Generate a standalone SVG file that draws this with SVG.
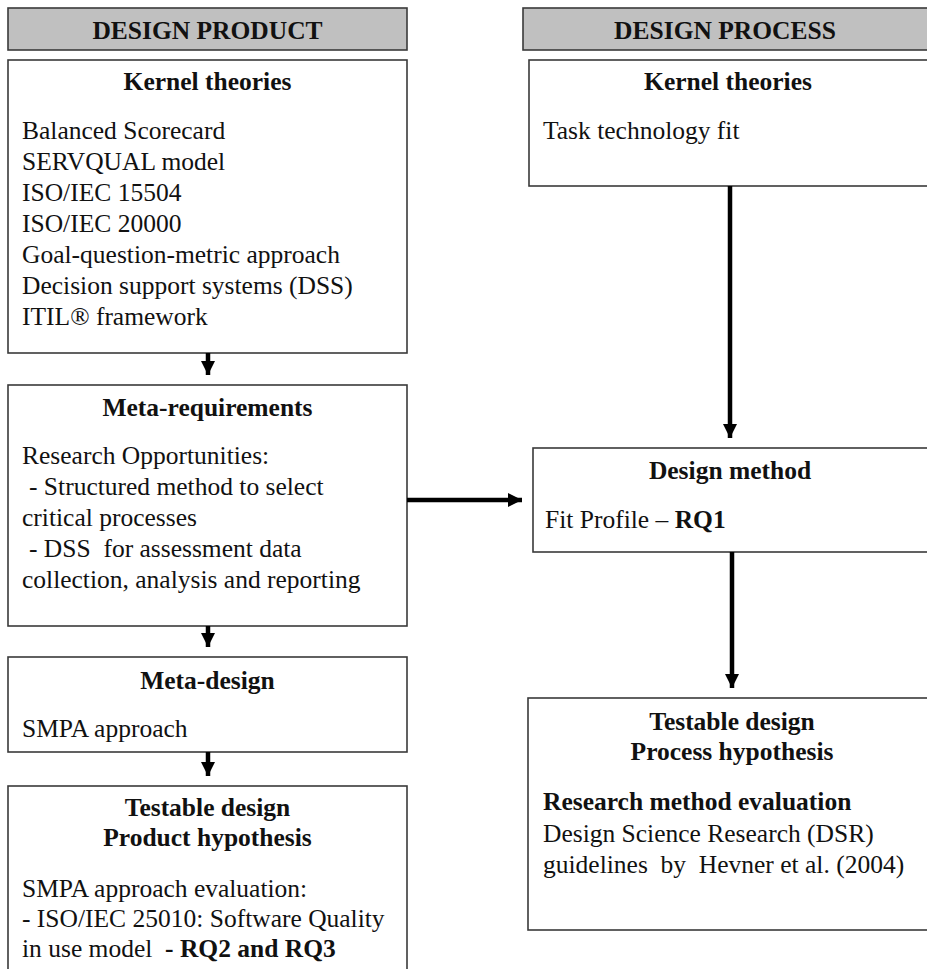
<svg xmlns="http://www.w3.org/2000/svg" width="927" height="969" viewBox="0 0 927 969" font-family="Liberation Serif" font-size="25">
<style>
.box{fill:#ffffff;stroke:#3a3a3a;stroke-width:1.6}
.hdr{fill:#c0c0c0;stroke:#3a3a3a;stroke-width:1.6}
text{font-family:'Liberation Serif','Times New Roman',serif;font-size:25.5px;fill:#111}
.b{font-weight:bold}
.c{text-anchor:middle}
.conn{stroke:#000;stroke-width:4.5;fill:none}
</style>
<defs>
<marker id="ah" markerUnits="userSpaceOnUse" markerWidth="14" markerHeight="14" refX="14" refY="7" orient="auto">
<path d="M0,0 L14,7 L0,14 z" fill="#000"/>
</marker>
</defs>
<rect width="927" height="969" fill="#ffffff"/>
<g id="hdr-product">
<rect class="hdr" x="8" y="8" width="399" height="42"/>
<text class="b c" x="207.5" y="39">DESIGN PRODUCT</text>
</g>
<g id="hdr-process">
<rect class="hdr" x="523" y="8" width="420" height="42"/>
<text class="b c" x="725" y="39">DESIGN PROCESS</text>
</g>
<g id="kernel-product">
<rect class="box" x="8" y="60" width="399" height="293"/>
<text class="b c" x="207.5" y="90">Kernel theories</text>
<text x="22" y="139">Balanced Scorecard</text>
<text x="22" y="170">SERVQUAL model</text>
<text x="22" y="201">ISO/IEC 15504</text>
<text x="22" y="232">ISO/IEC 20000</text>
<text x="22" y="263">Goal-question-metric approach</text>
<text x="22" y="294">Decision support systems (DSS)</text>
<text x="22" y="325">ITIL® framework</text>
</g>
<g id="meta-requirements">
<rect class="box" x="8" y="385" width="399" height="241"/>
<text class="b c" x="207.5" y="416">Meta-requirements</text>
<text x="22" y="464">Research Opportunities:</text>
<text x="29" y="495">- Structured method to select</text>
<text x="22" y="526">critical processes</text>
<text x="29" y="557" xml:space="preserve">- DSS  for assessment data</text>
<text x="22" y="588">collection, analysis and reporting</text>
</g>
<g id="meta-design">
<rect class="box" x="8" y="657" width="399" height="95"/>
<text class="b c" x="207.5" y="689">Meta-design</text>
<text x="22" y="737">SMPA approach</text>
</g>
<g id="testable-product">
<rect class="box" x="8" y="786" width="399" height="200"/>
<text class="b c" x="207.5" y="816">Testable design</text>
<text class="b c" x="207.5" y="846">Product hypothesis</text>
<text x="22" y="897">SMPA approach evaluation:</text>
<text x="22" y="927">- ISO/IEC 25010: Software Quality</text>
<text x="22" y="957" xml:space="preserve">in use model  <tspan class="b">- RQ2 and RQ3</tspan></text>
</g>
<g id="kernel-process">
<rect class="box" x="529" y="60" width="410" height="126"/>
<text class="b c" x="728" y="90">Kernel theories</text>
<text x="543" y="139">Task technology fit</text>
</g>
<g id="design-method">
<rect class="box" x="533" y="448" width="410" height="104"/>
<text class="b c" x="730" y="479">Design method</text>
<text x="545" y="528" xml:space="preserve">Fit Profile – <tspan class="b">RQ1</tspan></text>
</g>
<g id="testable-process">
<rect class="box" x="528" y="698" width="415" height="232"/>
<text class="b c" x="732" y="730">Testable design</text>
<text class="b c" x="732" y="760">Process hypothesis</text>
<text class="b" x="543" y="810">Research method evaluation</text>
<text x="543" y="842">Design Science Research (DSR)</text>
<text x="543" y="873" xml:space="preserve">guidelines  by  Hevner et al. (2004)</text>
</g>
<g id="connectors">
<line class="conn" x1="208" y1="353" x2="208" y2="375" marker-end="url(#ah)"/>
<line class="conn" x1="208" y1="626" x2="208" y2="647" marker-end="url(#ah)"/>
<line class="conn" x1="208" y1="752" x2="208" y2="776" marker-end="url(#ah)"/>
<line class="conn" x1="407" y1="500" x2="522" y2="500" marker-end="url(#ah)"/>
<line class="conn" x1="730" y1="186" x2="730" y2="438" marker-end="url(#ah)"/>
<line class="conn" x1="732" y1="552" x2="732" y2="688" marker-end="url(#ah)"/>
</g>
</svg>
